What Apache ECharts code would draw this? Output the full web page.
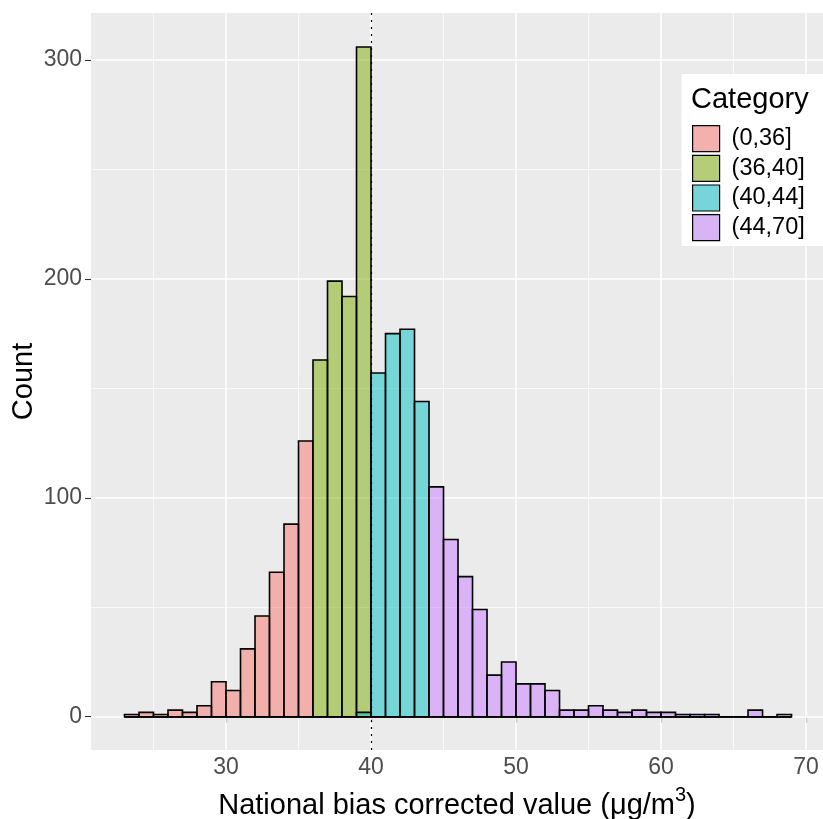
<!DOCTYPE html>
<html><head><meta charset="utf-8">
<script src="https://cdn.jsdelivr.net/npm/echarts@6/dist/echarts.min.js"></script>
<style>html,body{margin:0;padding:0;background:#fff}#c{width:823px;height:819px}</style>
</head><body><div id="c"></div>
<script>
// ---- data ----
const binStarts = [23,24,25,26,27,28,29,30,31,32,33,34,35,36,37,38,39,40,41,42,43,44,45,46,47,48,49,50,51,52,53,54,55,56,57,58,59,60,61,62,63,64,65,66,67,68];
const binWidth = 1;
const categories = ['(0,36]', '(36,40]', '(40,44]', '(44,70]'];
const countsA = [1,2,1,3,2,5,16,12,31,46,66,88,126, 0,0,0,0, 0,0,0,0, 0,0,0,0,0,0,0,0,0,0,0,0,0,0,0,0,0,0,0,0,0,0,0,0,0];
const countsB = [0,0,0,0,0,0,0,0,0,0,0,0,0, 163,199,192,306, 0,0,0,0, 0,0,0,0,0,0,0,0,0,0,0,0,0,0,0,0,0,0,0,0,0,0,0,0,0];
const countsC = [0,0,0,0,0,0,0,0,0,0,0,0,0, 0,0,0,2, 157,175,177,144, 0,0,0,0,0,0,0,0,0,0,0,0,0,0,0,0,0,0,0,0,0,0,0,0,0];
const countsD = [0,0,0,0,0,0,0,0,0,0,0,0,0, 0,0,0,0, 0,0,0,0, 105,81,64,49,19,25,15,15,12,3,3,5,3,2,3,2,2,1,1,1,0,0,3,0,1];
const xTicks = [30, 40, 50, 60, 70];
const yTicks = [0, 100, 200, 300];
const xMinor = [25, 35, 45, 55, 65];
const yMinor = [50, 150, 250];
const refLine = 40;

// ---- styling ----
const FONT = 'Liberation Sans, Arial, Helvetica, sans-serif';
const fills = ['rgba(248,118,109,0.5)', 'rgba(124,174,0,0.5)', 'rgba(0,191,196,0.5)', 'rgba(199,124,255,0.5)'];
const keyFills = ['#F2B1AC', '#B4CD76', '#76D5D8', '#D9B4F5'];
const allCounts = [countsA, countsB, countsC, countsD];

const chart = echarts.init(document.getElementById('c'), null, {renderer: 'canvas'});

const barSeries = categories.map((name, k) => ({
  name: name,
  type: 'custom',
  z: 2,
  itemStyle: {color: fills[k], borderColor: '#000', borderWidth: 1.6},
  encode: {x: [0, 1], y: 2},
  data: binStarts.map((s, i) => [s, s + binWidth, allCounts[k][i]]),
  renderItem: function (params, api) {
    const p0 = api.coord([api.value(0), api.value(2)]);
    const p1 = api.coord([api.value(1), 0]);
    return {
      type: 'rect',
      shape: {x: p0[0], y: p0[1], width: p1[0] - p0[0], height: p1[1] - p0[1]},
      style: {fill: fills[k], stroke: '#000', lineWidth: 1.6}
    };
  }
}));

const gridLineData = []
  .concat(xTicks.map(v => ({xAxis: v, lineStyle: {color: '#fff', width: 1.5, type: 'solid'}})))
  .concat(yTicks.map(v => ({yAxis: v, lineStyle: {color: '#fff', width: 1.5, type: 'solid'}})))
  .concat(xMinor.map(v => ({xAxis: v, lineStyle: {color: '#fff', width: 0.7, type: 'solid'}})))
  .concat(yMinor.map(v => ({yAxis: v, lineStyle: {color: '#fff', width: 0.7, type: 'solid'}})));

const option = {
  animation: false,
  backgroundColor: '#fff',
  textStyle: {fontFamily: FONT},
  grid: {left: 91, right: 0, top: 13, bottom: 69, show: true, backgroundColor: '#EBEBEB', borderWidth: 0,
         containLabel: false, outerBoundsMode: 'none'},
  title: {
    text: 'Category', left: 691, top: 85, padding: 0, z: 6,
    textStyle: {fontFamily: FONT, fontSize: 29, fontWeight: 'normal', color: '#000'}
  },
  graphic: [{
    type: 'rect', z: 3, shape: {x: 681.5, y: 74, width: 142, height: 172},
    style: {fill: '#fff'}
  }],
  legend: {
    orient: 'vertical', left: 692, top: 125, padding: 0,
    itemWidth: 27, itemHeight: 26, itemGap: 2.5, icon: 'rect',
    textStyle: {fontFamily: FONT, fontSize: 23.5, color: '#000', padding: [0, 0, 0, 7]},
    data: categories.map((n, i) => ({name: n, itemStyle: {color: keyFills[i], borderColor: '#000', borderWidth: 1.2}})),
    selectedMode: false, z: 6
  },
  xAxis: {
    type: 'value', min: 20.69, max: 71.17,
    axisLine: {show: false},
    axisTick: {show: true, customValues: xTicks, length: 6, lineStyle: {color: '#333', width: 1.1}},
    axisLabel: {customValues: xTicks, color: '#4D4D4D', fontSize: 23, margin: 6, fontFamily: FONT},
    splitLine: {show: false},
    name: '{a|National bias corrected value (μg/m}{sup|3}{a|)}',
    nameLocation: 'middle', nameGap: 35, nameMoveOverlap: false,
    nameTextStyle: {
      color: '#000', fontFamily: FONT, fontSize: 29,
      rich: {
        a: {fontSize: 29, fontFamily: FONT, color: '#000', lineHeight: 42},
        sup: {fontSize: 20, fontFamily: FONT, color: '#000', lineHeight: 20, verticalAlign: 'top'}
      }
    }
  },
  yAxis: {
    type: 'value', min: -15.2, max: 321.5,
    axisLine: {show: false},
    axisTick: {show: true, customValues: yTicks, length: 6, lineStyle: {color: '#333', width: 1.1}},
    axisLabel: {customValues: yTicks, color: '#4D4D4D', fontSize: 23, margin: 9, fontFamily: FONT},
    splitLine: {show: false},
    name: 'Count', nameLocation: 'middle', nameRotate: 90, nameGap: 53, nameMoveOverlap: false,
    nameTextStyle: {color: '#000', fontFamily: FONT, fontSize: 29}
  },
  series: [
    {
      type: 'line', data: [], z: 1, silent: true,
      markLine: {z: 1, silent: true, symbol: 'none', label: {show: false}, animation: false, data: gridLineData}
    }
  ].concat(barSeries).concat([
    {
      type: 'line', data: [], z: 5, silent: true,
      markLine: {
        z: 5, silent: true, symbol: 'none', label: {show: false}, animation: false,
        lineStyle: {color: '#000', width: 1.2, type: [2, 5]},
        data: [{xAxis: refLine}]
      }
    }
  ])
};
chart.setOption(option);
</script>
</body></html>
